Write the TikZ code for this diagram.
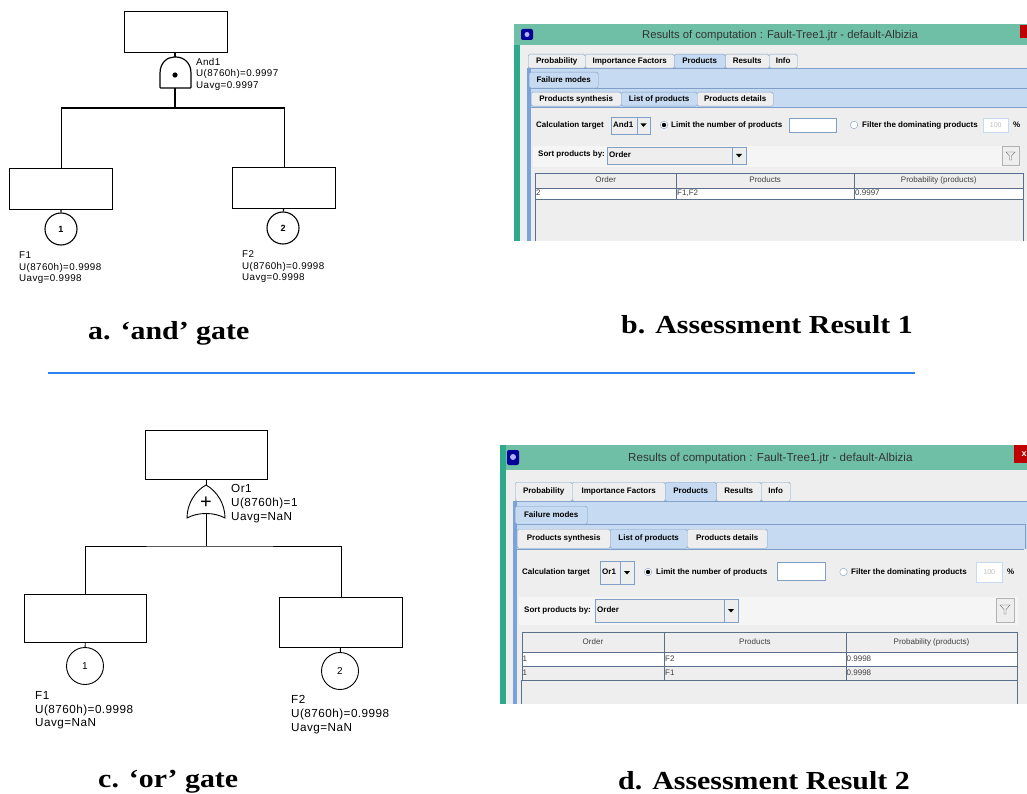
\documentclass[tikz,border=0pt]{standalone}
\usepackage{fontspec}
\setmainfont{Liberation Sans}
\newfontfamily\capfont{Liberation Serif}
\newfontfamily\treefont[LetterSpace=4]{Liberation Sans}
\usepackage{tikz}
\usetikzlibrary{positioning}
\definecolor{titlegreen}{HTML}{6FBFA6}
\definecolor{stripgreen}{HTML}{2FA98C}
\definecolor{panelblue}{HTML}{C6DBF1}
\definecolor{stripblue}{HTML}{7AA3DC}
\definecolor{edgeblue}{HTML}{7F9FC8}
\definecolor{guigrey}{HTML}{EEEEEE}
\definecolor{sepblue}{HTML}{2F80F0}

\begin{document}
\begin{tikzpicture}[
  x=1pt, y=-1pt,
  event/.style={rectangle, draw, line width=1.2pt, inner sep=0pt, anchor=north west},
  basic/.style={circle, draw, line width=1.1pt, fill=white, inner sep=0pt, minimum size=32pt, font=\fontsize{9}{9}\selectfont\bfseries},
  treelabel/.style={anchor=north west, inner sep=0pt, align=left, font=\fontsize{9.8}{11.7}\treefont},
  biglabel/.style={treelabel, font=\fontsize{11.7}{13.6}\treefont},
  caption/.style={anchor=west, inner sep=0pt, xscale=1.15, font=\fontsize{26}{26}\capfont\bfseries},
  tabbox/.style={rectangle, draw=edgeblue, fill=guigrey, rounded corners=1.5pt, inner sep=0pt, anchor=north west, text height=6pt, text depth=1.5pt, font=\fontsize{8}{8}\selectfont\bfseries},
  guitext/.style={anchor=west, inner sep=0pt, text height=6pt, text depth=1.5pt, font=\fontsize{8}{8}\selectfont\bfseries},
  celltext/.style={anchor=west, inner sep=0pt, text height=6pt, text depth=1.5pt, font=\fontsize{8}{8}\selectfont, text=black!75},
  headcell/.style={rectangle, draw=edgeblue!70!black, fill=guigrey, inner sep=0pt, anchor=north west, text height=6pt, text depth=1.5pt, font=\fontsize{8}{8}\selectfont, text=black!75},
  rowcell/.style={headcell, fill=white},
  inputbox/.style={rectangle, draw=edgeblue, fill=white, inner sep=0pt, anchor=north west},
  combobox/.style={rectangle, draw=edgeblue, fill=guigrey, inner sep=0pt, anchor=north west},
  radiobtn/.style={circle, draw=edgeblue, fill=white, inner sep=0pt, minimum size=7.5pt}
]
\useasboundingbox (0,0) rectangle (1027,794);

% And gate tree
\node[event, minimum width=103pt, minimum height=41pt] (top1) at (124,11) {};
\node[event, minimum width=103pt, minimum height=41pt] (ev11) at (9,168) {};
\node[event, minimum width=103pt, minimum height=41pt] (ev12) at (232,167) {};
\node[basic] (f11) at (61,229) {1};
\node[basic] (f12) at (283,228) {2};
\draw[line width=1.2pt, rounded corners=0.8pt] (160,88) -- (160,74) .. controls (160,63) and (167,57) .. (175,57) .. controls (184,57) and (191,63) .. (191,74) -- (191,88) -- cycle;
\fill (175,75) circle (2.6);
\coordinate (and1in) at (175,57);
\coordinate (and1out) at (175,88);
\coordinate (bus1) at (175,108);
\draw[line width=1.2pt] (top1.south -| and1in) -- (and1in);
\draw[line width=1.2pt] (and1out) -- (bus1);
\draw[line width=1.2pt] (ev11.north) |- (bus1) -| (ev12.north);
\draw[line width=1.2pt] (ev11) -- (f11);
\draw[line width=1.2pt] (ev12) -- (f12);
\node[treelabel] (and1text) at (196,58) {And1\\U(8760h)=0.9997\\Uavg=0.9997};
\node[treelabel] (f11text) at (19,251.5) {F1\\U(8760h)=0.9998\\Uavg=0.9998};
\node[treelabel] (f12text) at (242,250.5) {F2\\U(8760h)=0.9998\\Uavg=0.9998};
\node[caption] (capa) at (88,333) {a. ‘and’ gate};
\node[caption] (capb) at (621,325) {b. Assessment Result 1};

% Separator
\coordinate (sepl) at (48,373);
\coordinate (sepr) at (915,373);
\draw[line width=1.5pt, color=sepblue] (sepl) -- (sepr);

% Or gate tree
\node[event, line width=0.9pt, minimum width=122pt, minimum height=49pt] (top2) at (145,430) {};
\node[event, line width=0.9pt, minimum width=122pt, minimum height=48pt] (ev21) at (24,594) {};
\node[event, line width=0.9pt, minimum width=123pt, minimum height=50pt] (ev22) at (279,597) {};
\node[basic, line width=0.9pt, minimum size=37pt, font=\fontsize{10}{10}\selectfont] (f21) at (85,666) {1};
\node[basic, line width=0.9pt, minimum size=37pt, font=\fontsize{10}{10}\selectfont] (f22) at (340,671) {2};
\draw[line width=0.9pt] (206,485) .. controls (195,491) and (187,504) .. (187,518) .. controls (198,512) and (214,512) .. (225,518) .. controls (225,504) and (217,491) .. (206,485) -- cycle;
\coordinate (or1in) at (206,485);
\coordinate (or1out) at (206,514);
\coordinate (bus2) at (206,546);
\node[inner sep=0pt, font=\fontsize{20}{20}\selectfont] (plus2) at (206,503) {+};
\draw[line width=0.9pt] (top2.south -| or1in) -- (or1in);
\draw[line width=0.9pt] (or1out) -- (bus2);
\draw[line width=0.9pt] (ev21.north) |- (bus2) -| (ev22.north);
\draw[line width=0.9pt] (ev21) -- (f21);
\draw[line width=0.9pt] (ev22) -- (f22);
\node[biglabel] (or1text) at (231,484.5) {Or1\\U(8760h)=1\\Uavg=NaN};
\node[biglabel] (f21text) at (35,691.5) {F1\\U(8760h)=0.9998\\Uavg=NaN};
\node[biglabel] (f22text) at (291,695.5) {F2\\U(8760h)=0.9998\\Uavg=NaN};
\node[caption] (capc) at (98,782) {c. ‘or’ gate};
\node[caption] (capd) at (618,781) {d. Assessment Result 2};

% Window 1
\fill[titlegreen] (514,24) rectangle (1027,241);
\fill[stripgreen] (514,45) rectangle (519.5,241);
\fill[guigrey] (519.5,45) rectangle (1027,241);
\fill[blue!60!black, rounded corners=2pt] (521,29) rectangle (533,40);
\fill[white!70!blue] (527,34.5) circle (2.5);
\fill[red!75!black] (1020,25) rectangle (1027,38);
\node[anchor=west, inner sep=0pt, font=\fontsize{11.25}{11.25}\selectfont, text=black!80] (title1) at (642,35.5) {Results of computation : Fault-Tree1.jtr - default-Albizia};
\fill[panelblue] (527,68) rectangle (1027,241);
\fill[stripblue] (527,68) rectangle (531,241);
\draw[edgeblue] (527,68) -- (1027,68);
\draw[edgeblue] (529,88) -- (1027,88);
\fill[guigrey] (531,107) rectangle (1027,241);
\draw[edgeblue] (531,107) -- (1027,107);
\foreach \tabx/\tabw/\tabtext [count=\tabi] in {528/57/Probability, 585/89/Importance Factors, 725/44/Results, 769/28/Info}
  \node[tabbox, minimum width=\tabw pt, minimum height=14pt] (w1tab\tabi) at (\tabx,54) {\tabtext};
\node[tabbox, fill=panelblue, minimum width=51pt, minimum height=14pt] (w1tabp) at (674,54) {Products};
\node[tabbox, fill=panelblue, minimum width=69pt, minimum height=16pt] (w1fail) at (529,72) {Failure modes};
\node[tabbox, minimum width=90pt, minimum height=14pt] (w1sub1) at (531,92) {Products synthesis};
\node[tabbox, fill=panelblue, minimum width=76pt, minimum height=14pt] (w1sub2) at (621,92) {List of products};
\node[tabbox, minimum width=76pt, minimum height=14pt] (w1sub3) at (697,92) {Products details};
\node[guitext] (w1calc) at (536,125) {Calculation target};
\node[combobox, minimum width=39pt, minimum height=17pt] (w1comb) at (611,117) {};
\node[guitext] (w1and) at (613,125) {And1};
\draw[edgeblue] (637,117) -- (637,134);
\fill (640.5,123.5) -- (646.5,123.5) -- (643.5,127) -- cycle;
\node[radiobtn] (w1rad1) at (664,125) {};
\fill[black] (664,125) circle (2.2);
\node[guitext] (w1lim) at (671,125) {Limit the number of products};
\node[inputbox, minimum width=47pt, minimum height=14pt] (w1num) at (789,118) {};
\node[radiobtn] (w1rad2) at (854,125) {};
\node[guitext] (w1fil) at (862,125) {Filter the dominating products};
\node[inputbox, draw=panelblue, minimum width=25pt, minimum height=14pt, font=\fontsize{7}{7}\selectfont, text=black!25] (w1pct) at (983,118) {100};
\node[guitext] (w1sign) at (1013,125) {\%};
\fill[white!40!guigrey] (533,146) rectangle (1020,167);
\node[guitext] (w1sort) at (538,154.5) {Sort products by:};
\node[combobox, minimum width=139pt, minimum height=17pt] (w1scomb) at (607,147) {};
\node[guitext] (w1ord) at (609,155) {Order};
\draw[edgeblue] (732,147) -- (732,164);
\fill (736,154) -- (742,154) -- (739,157.5) -- cycle;
\node[combobox, draw=black!30, minimum width=17pt, minimum height=19pt] (w1filt) at (1002,146) {};
\draw[black!60] (1006,152) -- (1015,152) -- (1011.5,156) -- (1011.5,160) -- (1009.5,160) -- (1009.5,156) -- cycle;
\node[headcell, minimum width=141pt, minimum height=15pt] (w1h1) at (535,173) {Order};
\node[headcell, minimum width=178pt, minimum height=15pt] (w1h2) at (676,173) {Products};
\node[headcell, minimum width=169pt, minimum height=15pt] (w1h3) at (854,173) {Probability (products)};
\node[rowcell, minimum width=141pt, minimum height=11pt] (w1r1) at (535,188) {};
\node[rowcell, minimum width=178pt, minimum height=11pt] (w1r2) at (676,188) {};
\node[rowcell, minimum width=169pt, minimum height=11pt] (w1r3) at (854,188) {};
\node[celltext] (w1t1) at (536,193.5) {2};
\node[celltext] (w1t2) at (677,193.5) {F1,F2};
\node[celltext] (w1t3) at (855,193.5) {0.9997};
\draw[edgeblue!70!black] (535,199) -- (535,241);
\draw[edgeblue!70!black] (1023,199) -- (1023,241);

% Window 2
\fill[titlegreen] (500,445) rectangle (1027,470);
\fill[stripgreen] (500,445) rectangle (506,704);
\fill[guigrey] (506,470) rectangle (1027,704);
\fill[blue!60!black, rounded corners=2pt] (507,450) rectangle (519,465);
\fill[white!70!blue] (513,457) circle (3);
\fill[red!75!black] (1014,445) rectangle (1027,463);
\node[anchor=center, inner sep=0pt, font=\fontsize{9}{9}\selectfont\bfseries, text=white] (close2) at (1024,454) {x};
\node[anchor=west, inner sep=0pt, font=\fontsize{11.6}{11.6}\selectfont, text=black!80] (title2) at (628,458) {Results of computation : Fault-Tree1.jtr - default-Albizia};
\fill[panelblue] (513,501) rectangle (1027,704);
\fill[stripblue] (513,501) rectangle (517,704);
\draw[edgeblue] (513,501) -- (1027,501);
\draw[edgeblue] (515,524) -- (1025,524) -- (1025,549);
\fill[guigrey] (517,549) rectangle (1027,704);
\draw[edgeblue] (517,549) -- (1024,549);
\foreach \tabx/\tabw/\tabtext [count=\tabi] in {515/57/Probability, 572/93/Importance Factors, 716/45/Results, 761/29/Info}
  \node[tabbox, minimum width=\tabw pt, minimum height=19pt] (w2tab\tabi) at (\tabx,482) {\tabtext};
\node[tabbox, fill=panelblue, minimum width=51pt, minimum height=19pt] (w2tabp) at (665,482) {Products};
\node[tabbox, fill=panelblue, minimum width=72pt, minimum height=18pt] (w2fail) at (515,506) {Failure modes};
\node[tabbox, minimum width=93pt, minimum height=19pt] (w2sub1) at (517,529) {Products synthesis};
\node[tabbox, fill=panelblue, minimum width=77pt, minimum height=19pt] (w2sub2) at (610,529) {List of products};
\node[tabbox, minimum width=80pt, minimum height=19pt] (w2sub3) at (687,529) {Products details};
\node[guitext] (w2calc) at (522,572) {Calculation target};
\node[combobox, minimum width=34pt, minimum height=23pt] (w2comb) at (600,561) {};
\node[guitext] (w2or) at (602,572) {Or1};
\draw[edgeblue] (620.5,561) -- (620.5,584);
\fill (624,571) -- (630,571) -- (627,574.5) -- cycle;
\node[radiobtn] (w2rad1) at (648,572) {};
\fill[black] (648,572) circle (2.2);
\node[guitext] (w2lim) at (656,572) {Limit the number of products};
\node[inputbox, minimum width=48pt, minimum height=18pt] (w2num) at (777,562) {};
\node[radiobtn] (w2rad2) at (843.5,572) {};
\node[guitext] (w2fil) at (851,572) {Filter the dominating products};
\node[inputbox, draw=panelblue, minimum width=26pt, minimum height=20pt, font=\fontsize{7}{7}\selectfont, text=black!25] (w2pct) at (976,562) {100};
\node[guitext] (w2sign) at (1007,572) {\%};
\fill[white!40!guigrey] (519,597) rectangle (1018,625);
\node[guitext] (w2sort) at (524,610) {Sort products by:};
\node[combobox, minimum width=143pt, minimum height=23pt] (w2scomb) at (595,599) {};
\node[guitext] (w2ord) at (597,610) {Order};
\draw[edgeblue] (724,599) -- (724,622);
\fill (728,609) -- (734,609) -- (731,612.5) -- cycle;
\node[combobox, draw=black!30, minimum width=18.5pt, minimum height=24pt] (w2filt) at (995.5,598) {};
\draw[black!60] (1000,605) -- (1010,605) -- (1006,609.5) -- (1006,614) -- (1004,614) -- (1004,609.5) -- cycle;
\node[headcell, minimum width=142.5pt, minimum height=20pt] (w2h1) at (521.5,632) {Order};
\node[headcell, minimum width=181.5pt, minimum height=20pt] (w2h2) at (664,632) {Products};
\node[headcell, minimum width=171.5pt, minimum height=20pt] (w2h3) at (845.5,632) {Probability (products)};
\foreach \cellx/\cellw [count=\celli] in {521.5/142.5, 664/181.5, 845.5/171.5}
  \node[rowcell, minimum width=\cellw pt, minimum height=13.5pt] (w2ra\celli) at (\cellx,652) {};
\foreach \cellx/\cellw [count=\celli] in {521.5/142.5, 664/181.5, 845.5/171.5}
  \node[headcell, minimum width=\cellw pt, minimum height=14.5pt] (w2rb\celli) at (\cellx,665.5) {};
\node[celltext] (w2t1) at (522.5,659) {1};
\node[celltext] (w2t2) at (665,659) {F2};
\node[celltext] (w2t3) at (846.5,659) {0.9998};
\node[celltext] (w2t4) at (522.5,673) {1};
\node[celltext] (w2t5) at (665,673) {F1};
\node[celltext] (w2t6) at (846.5,673) {0.9998};
\draw[edgeblue!70!black] (521.5,680) -- (521.5,704);
\draw[edgeblue!70!black] (1017,680) -- (1017,704);

\end{tikzpicture}
\end{document}
